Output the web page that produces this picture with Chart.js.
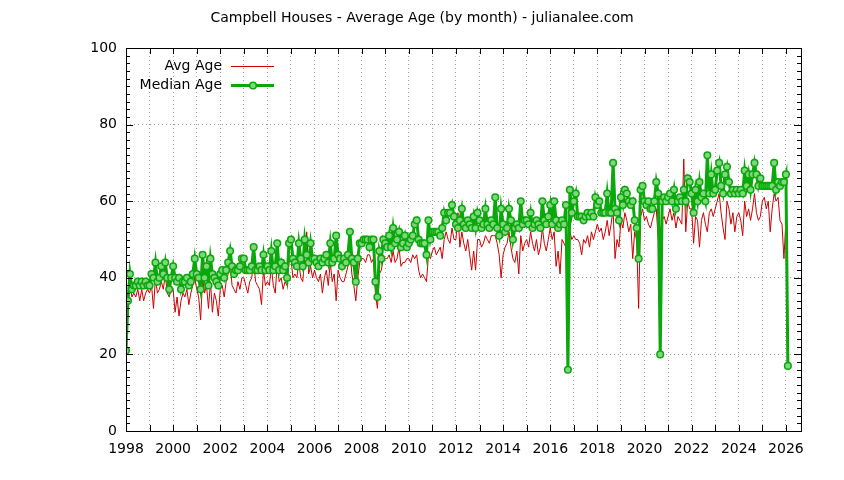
<!DOCTYPE html>
<html>
<head>
<meta charset="utf-8">
<script src="https://cdn.jsdelivr.net/npm/chart.js@4.4.1/dist/chart.umd.min.js"></script>
<style>
html,body{margin:0;padding:0;background:#fff;}
canvas{display:block;}
</style>
</head>
<body>
<canvas id="c" width="844" height="480"></canvas>
<script>
// ---- data (monthly, starting January 1998) ----
const titleText = 'Campbell Houses - Average Age (by month) - julianalee.com';
const firstYear = 1998;
const seriesNames = ['Avg Age', 'Median Age'];
const xTickLabels = ['1998','2000','2002','2004','2006','2008','2010','2012','2014','2016','2018','2020','2022','2024','2026'];
const yTickValues = [0, 20, 40, 60, 80, 100];

const medianAge = [
  21,34,41,37,38,38,39,38,39,38,39,38,   // 1998
  38,41,40,44,39,40,43,41,44,40,37,40,   // 1999
  43,40,39,40,37,39,39,40,38,39,41,45,   // 2000
  41,40,37,46,40,43,38,45,41,40,39,38,   // 2001
  41,42,40,42,44,47,43,41,42,42,43,45,   // 2002
  45,42,42,42,43,48,42,42,43,42,46,42,   // 2003
  43,42,47,42,43,49,42,44,42,43,40,49,   // 2004
  50,45,44,43,49,45,43,50,46,44,49,45,   // 2005
  45,44,43,45,44,45,46,44,49,44,45,51,   // 2006
  46,45,43,45,44,46,52,45,44,39,45,49,   // 2007
  49,50,50,50,48,50,50,39,35,47,45,50,   // 2008
  49,48,51,48,53,49,50,52,48,49,51,48,   // 2009
  49,50,51,54,55,50,49,49,49,46,55,50,   // 2010
  52,52,52,52,51,53,57,55,57,57,59,56,   // 2011
  54,53,55,58,54,53,55,54,53,56,53,57,   // 2012
  55,53,54,58,54,53,55,54,61,53,51,58,   // 2013
  54,52,53,58,55,50,53,54,53,60,54,55,   // 2014
  55,54,57,53,54,55,54,53,60,55,54,56,   // 2015
  59,54,60,55,53,54,55,54,59,16,63,57,   // 2016
  60,62,56,56,56,55,56,57,56,57,56,61,   // 2017
  59,60,57,57,57,62,57,57,70,58,57,55,   // 2018
  61,59,63,62,60,59,60,55,53,45,63,64,   // 2019
  60,59,60,58,58,60,65,62,20,60,61,60,   // 2020
  61,62,60,63,58,60,61,60,63,60,66,65,   // 2021
  62,57,63,60,65,61,62,60,72,62,67,62,   // 2022
  63,68,70,64,62,67,69,65,62,63,62,63,   // 2023
  62,63,62,68,64,67,63,67,70,67,64,66,   // 2024
  64,64,64,64,64,64,70,63,65,64,65,65,   // 2025
  67,17                                  // 2026
];

const avgAge = [
  21,33,38,35,36,35,37,34,37,34,36,37,   // 1998
  36,38,32,40,36,37,39,37,41,36,35,37,   // 1999
  37,31,35,30,34,36,35,37,33,36,38,40,   // 2000
  37,35,29,40,36,38,32,39,31,36,34,30,   // 2001
  37,38,35,39,41,44,38,37,36,39,37,40,   // 2002
  40,38,36,39,40,44,39,38,37,33,42,38,   // 2003
  39,38,43,38,36,44,39,40,37,39,38,44,   // 2004
  45,40,41,40,44,40,39,45,52,41,43,40,   // 2005
  42,40,39,41,36,40,42,38,44,39,41,34,   // 2006
  42,40,39,39,41,43,47,41,38,34,40,44,   // 2007
  45,45,44,46,46,44,45,36,32,41,42,45,   // 2008
  45,45,46,44,47,44,45,48,43,44,44,45,   // 2009
  45,44,46,45,46,42,40,41,40,39,46,45,   // 2010
  47,48,46,47,48,45,50,52,50,49,53,50,   // 2011
  50,57,48,52,49,47,50,46,42,47,42,50,   // 2012
  50,48,49,51,50,49,51,51,51,49,46,40,   // 2013
  46,48,49,52,48,45,44,47,41,51,47,49,   // 2014
  50,48,52,49,47,50,46,48,53,49,47,50,   // 2015
  53,50,52,43,47,41,50,49,48,49,52,50,   // 2016
  51,50,50,49,46,50,49,51,48,52,50,52,   // 2017
  54,52,53,50,52,55,51,54,58,45,50,48,   // 2018
  55,53,57,55,52,54,45,52,50,32,56,58,   // 2019
  55,56,54,53,55,57,58,50,52,55,56,54,   // 2020
  56,58,55,57,53,56,55,54,71,52,60,58,   // 2021
  58,49,56,55,48,55,57,54,52,57,58,56,   // 2022
  58,60,62,57,53,50,60,58,54,57,52,56,   // 2023
  57,55,51,60,56,58,55,58,62,57,55,56,   // 2024
  60,61,58,60,52,58,62,60,61,55,54,45,   // 2025
  55,17                                  // 2026
];

// ---- build chart ----
const FONT = 'DejaVu Sans';
const FSIZE = 14;
const toPoints = arr => arr.map((v, i) => ({ x: firstYear + i / 12, y: v }));
const RED = '#cc0000';
const GREEN = '#0aa80a';
const GREEN_FILL = '#7fd67f';

const framePlugin = {
  id: 'gnuFrame',
  afterDraw(chart) {
    const { ctx, chartArea: a, scales: { x, y } } = chart;
    ctx.save();
    ctx.strokeStyle = '#000';
    ctx.lineWidth = 1;
    const line = (x1, y1, x2, y2) => { ctx.beginPath(); ctx.moveTo(x1, y1); ctx.lineTo(x2, y2); ctx.stroke(); };
    // x ticks every year, mirrored on top
    for (let yr = Math.ceil(x.min); yr <= x.max; yr++) {
      const px = Math.round(x.getPixelForValue(yr)) + 0.5;
      line(px, a.bottom, px, a.bottom - 6);
      line(px, a.top, px, a.top + 6);
    }
    // y ticks: major every 20, minor every 2, mirrored on right
    for (let v = 0; v <= 100; v += 2) {
      const py = Math.round(y.getPixelForValue(v)) + 0.5;
      const len = (v % 20 === 0) ? 7 : 4;
      line(a.left, py, a.left + len, py);
      line(a.right, py, a.right - len, py);
    }
    ctx.strokeRect(Math.round(a.left) + 0.5, Math.round(a.top) + 0.5, Math.round(a.width), Math.round(a.height));

    // title
    ctx.fillStyle = '#000';
    ctx.font = FSIZE + 'px "' + FONT + '"';
    ctx.textAlign = 'center';
    ctx.textBaseline = 'middle';
    ctx.fillText(titleText, 422, 18);

    // legend (gnuplot style: right-aligned text, sample on the right)
    ctx.textAlign = 'right';
    const legendRows = [
      { label: chart.data.datasets[1].label, y: 66, color: RED, width: 1, point: false },
      { label: chart.data.datasets[0].label, y: 85, color: GREEN, width: 3, point: true }
    ];
    legendRows.forEach(r => {
      ctx.fillText(r.label, 222, r.y);
      ctx.strokeStyle = r.color;
      ctx.lineWidth = r.width;
      line(231, r.y + 0.5, 274, r.y + 0.5);
      if (r.point) {
        ctx.beginPath();
        ctx.arc(253, r.y + 0.5, 3.3, 0, Math.PI * 2);
        ctx.fillStyle = GREEN_FILL;
        ctx.fill();
        ctx.lineWidth = 1.5;
        ctx.strokeStyle = GREEN;
        ctx.stroke();
        ctx.fillStyle = '#000';
      }
    });
    ctx.restore();
  }
};

new Chart(document.getElementById('c'), {
  type: 'line',
  data: {
    datasets: [
      {
        label: seriesNames[1],
        data: toPoints(medianAge),
        borderColor: GREEN,
        borderWidth: 3,
        pointRadius: 3.3,
        pointBorderWidth: 1.5,
        pointBorderColor: GREEN,
        pointBackgroundColor: GREEN_FILL,
        tension: 0,
        order: 1
      },
      {
        label: seriesNames[0],
        data: toPoints(avgAge),
        borderColor: RED,
        borderWidth: 1,
        pointRadius: 0,
        tension: 0,
        order: 2
      }
    ]
  },
  options: {
    responsive: false,
    animation: false,
    events: [],
    layout: { padding: { top: 48, right: 43, left: 0, bottom: 0 } },
    plugins: { legend: { display: false }, title: { display: false }, tooltip: { enabled: false } },
    scales: {
      x: {
        type: 'linear',
        min: 1998,
        max: 2026.64,
        afterFit: s => { s.height = 49; },
        border: { display: false, dash: [1, 3] },
        grid: { color: '#a0a0a0', lineWidth: 1, drawTicks: false },
        ticks: {
          stepSize: 1,
          autoSkip: false,
          maxRotation: 0,
          includeBounds: false,
          padding: 10,
          color: '#000',
          font: { family: FONT, size: FSIZE },
          callback: v => xTickLabels.includes(String(v)) ? String(v) : ''
        }
      },
      y: {
        min: 0,
        max: 100,
        afterFit: s => { s.width = 126; },
        border: { display: false, dash: [1, 3] },
        grid: { color: '#a0a0a0', lineWidth: 1, drawTicks: false },
        ticks: {
          stepSize: 20,
          padding: 9,
          color: '#000',
          font: { family: FONT, size: FSIZE },
          callback: v => yTickValues.includes(v) ? String(v) : ''
        }
      }
    }
  },
  plugins: [framePlugin]
});
</script>
</body>
</html>
